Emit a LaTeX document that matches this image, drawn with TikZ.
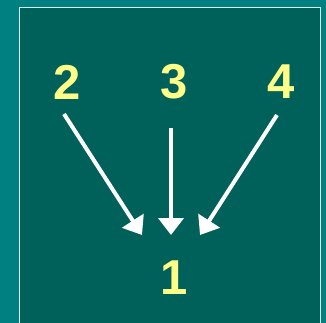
\documentclass[tikz,border=0pt]{standalone}
\usepackage{fontspec}
\setmainfont{Liberation Sans}
\usetikzlibrary{arrows.meta}
\definecolor{outerbg}{HTML}{008080}
\definecolor{innerbg}{HTML}{00605A}
\definecolor{numyellow}{HTML}{FFFF88}
\tikzset{
  num/.style={text=numyellow, font=\fontsize{49}{49}\selectfont\bfseries, inner sep=0pt},
  arr/.style={draw=white, line width=4pt, -{Triangle[length=17pt,width=25pt]}}
}
\begin{document}
\begin{tikzpicture}[x=1pt,y=1pt]
\useasboundingbox (0,0) rectangle (326,-323);
\fill[outerbg] (0,0) rectangle (326,-323);
\fill[innerbg, draw=white!85!outerbg, line width=1.2pt] (19.5,-7.5) rectangle (320.5,-330);
\node[num] (n2) at (67,-82) {2};
\node[num] (n3) at (174,-82) {3};
\node[num] (n4) at (281,-82) {4};
\node[num] (n1) at (174,-278) {1};
\coordinate (s2) at (64,-114);
\coordinate (s3) at (171,-128);
\coordinate (s4) at (277,-115);
\coordinate (t2) at (142,-235);
\coordinate (t3) at (171,-235);
\coordinate (t4) at (200,-235);
\draw[arr] (s2) -- (t2);
\draw[arr] (s3) -- (t3);
\draw[arr] (s4) -- (t4);
\end{tikzpicture}
\end{document}
